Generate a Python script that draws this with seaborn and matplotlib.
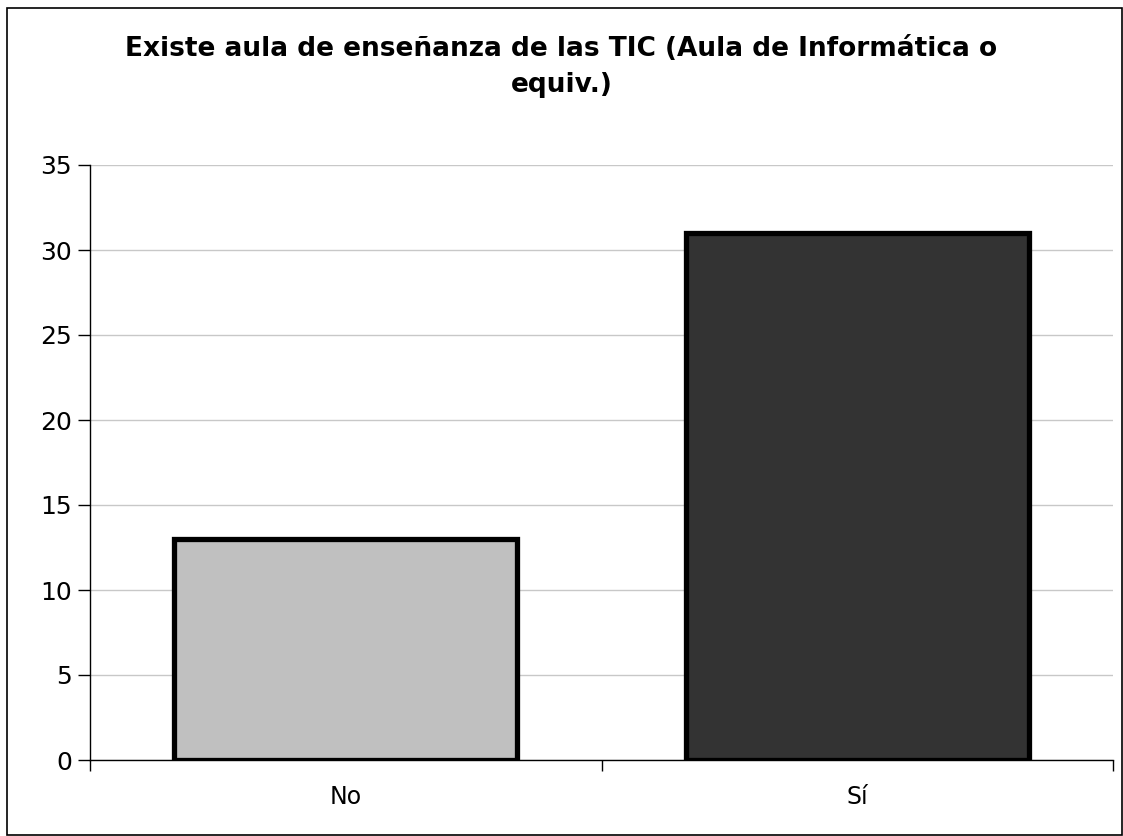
import matplotlib
matplotlib.use("Agg")
import matplotlib.pyplot as plt
import seaborn as sns
import pandas as pd

# Datos
categorias = ["No", "Sí"]
valores = [13, 31]
colores = ["#c0c0c0", "#333333"]
titulo = "Existe aula de enseñanza de las TIC (Aula de Informática o\nequiv.)"

sns.set_style("white", {"xtick.bottom": True, "ytick.left": True,
                        "text.color": "black", "xtick.color": "black",
                        "ytick.color": "black"})
plt.rcParams['font.family'] = ['DejaVu Sans']

df = pd.DataFrame({"cat": categorias, "val": valores})

fig = plt.figure(figsize=(11.23, 8.36), dpi=100)
ax = fig.add_axes([90 / 1123, 1 - 760 / 836, (1113 - 90) / 1123, (760 - 165) / 836])

sns.barplot(data=df, x="cat", y="val", hue="cat", palette=colores, legend=False,
            width=0.67, edgecolor="black", linewidth=3.8, ax=ax, zorder=3)

ax.set_xlim(-0.5, 1.5)
ax.set_ylim(0, 35)
ax.set_yticks(range(0, 36, 5))
ax.yaxis.grid(True, color="#c8c8c8", linewidth=1, zorder=0)
ax.set_axisbelow(True)
ax.set_xlabel("")
ax.set_ylabel("")

# ticks del eje x en los límites de categoría
ax.set_xticks([-0.5, 0.5, 1.5])
ax.set_xticklabels([])
ax.set_xticks([0, 1], minor=True)
ax.set_xticklabels(categorias, minor=True, fontsize=17)
ax.tick_params(axis="x", which="minor", length=0, pad=18, colors="black")
ax.tick_params(axis="x", which="major", length=8, width=1, color="black", direction="out")
ax.tick_params(axis="y", length=9, width=1, color="black", direction="out",
               labelsize=18, pad=4, labelcolor="black")

for s in ["top", "right"]:
    ax.spines[s].set_visible(False)
for s in ["left", "bottom"]:
    ax.spines[s].set_color("black")
    ax.spines[s].set_linewidth(1)

fig.text(0.5, 1 - 67 / 836, titulo, ha="center", va="center", fontsize=19,
         fontweight="bold", linespacing=1.45, color="black")

# marco de la figura
borde = plt.Rectangle((7 / 1123, 1 / 836), 1 - 8 / 1123, 1 - 9 / 836, transform=fig.transFigure,
                      fill=False, edgecolor="black", linewidth=1.2)
fig.patches.append(borde)

fig.savefig("out.png", dpi=100, facecolor="white")
